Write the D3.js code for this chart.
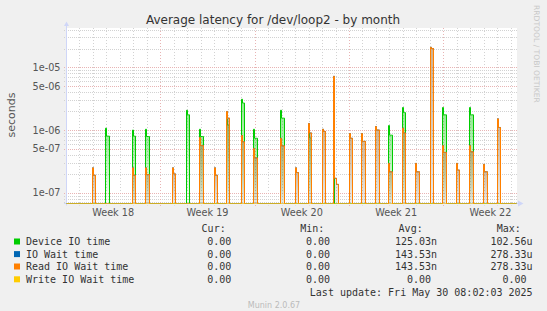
<!DOCTYPE html>
<html>
<head>
<meta charset="utf-8">
<script src="https://cdn.jsdelivr.net/npm/d3@7"></script>
<style>
  body { margin: 0; background: #f0f0f0; }
  svg { display: block; }
  text { font-family: "DejaVu Sans", sans-serif; }
  .mono { font-family: "DejaVu Sans Mono", monospace; white-space: pre; }
</style>
</head>
<body>
<div id="chart"></div>
<script>
// ---- data (2 hour steps, values in seconds) ----
const spikeTimes = [
  "2025-04-28T22:20Z", "2025-04-29T22:00Z", "2025-05-01T21:30Z", "2025-05-02T21:10Z",
  "2025-05-04T20:50Z", "2025-05-05T21:40Z", "2025-05-06T21:20Z", "2025-05-07T23:00Z",
  "2025-05-08T20:50Z", "2025-05-09T23:10Z", "2025-05-10T21:40Z", "2025-05-12T21:40Z",
  "2025-05-13T23:20Z", "2025-05-14T23:00Z", "2025-05-15T23:50Z", "2025-05-16T20:00Z",
  "2025-05-17T23:30Z", "2025-05-18T21:50Z", "2025-05-19T22:50Z", "2025-05-20T22:00Z",
  "2025-05-21T22:20Z", "2025-05-22T22:10Z", "2025-05-24T00:50Z", "2025-05-24T22:10Z",
  "2025-05-25T22:30Z", "2025-05-26T22:10Z", "2025-05-27T23:10Z", "2025-05-28T23:10Z"
];
const deviceIO = [
  [], [1.07e-6, 8.0e-7, 8.0e-7], [1.0e-6, 8.0e-7, 8.0e-7], [1.03e-6, 7.9e-7, 7.9e-7],
  [], [2.07e-6, 1.75e-6, 1.75e-6], [1.03e-6, 7.9e-7, 7.9e-7], [],
  [1.5e-6, 1.2e-6, 1.2e-6], [3.1e-6, 2.7e-6, 2.7e-6], [1.03e-6, 7.4e-7, 7.4e-7], [2.07e-6, 1.55e-6, 1.55e-6],
  [], [1.1e-6, 7.5e-7, 7.5e-7], [], [5.0e-6],
  [], [], [], [1.18e-6, 8.3e-7, 8.3e-7],
  [2.29e-6, 1.9e-6, 1.9e-6], [], [], [2.29e-6, 1.75e-6, 1.75e-6],
  [], [2.29e-6, 1.75e-6, 1.75e-6], [], []
];
const readWait = [
  [2.5e-7, 1.9e-7, 1.9e-7], [], [2.5e-7, 1.9e-7, 1.9e-7], [2.5e-7, 1.95e-7, 1.95e-7],
  [2.5e-7, 2.0e-7, 2.0e-7], [], [7.6e-7, 5.65e-7, 5.65e-7], [2.5e-7, 1.9e-7, 1.9e-7],
  [1.98e-6, 1.55e-6, 1.55e-6], [8.2e-7, 6.5e-7, 6.5e-7], [5.1e-7, 3.6e-7, 3.6e-7], [7.4e-7, 5.6e-7, 5.6e-7],
  [2.5e-7, 2.1e-7, 2.1e-7], [1.27e-6, 9.0e-7, 9.0e-7], [1.03e-6, 9.5e-7, 9.5e-7], [7.2e-6, 1.7e-7, 1.36e-7, 1.36e-7],
  [8.8e-7, 7.4e-7, 7.4e-7], [8.8e-7, 6.6e-7, 6.6e-7], [1.14e-6, 1.0e-6, 1.0e-6], [2.94e-7, 2.16e-7, 2.16e-7],
  [1.07e-6, 9.0e-7, 9.0e-7], [2.94e-7, 2.16e-7, 2.16e-7], [2.09e-5, 2.0e-5], [5.65e-7, 4.4e-7, 4.4e-7],
  [2.94e-7, 2.3e-7, 2.3e-7], [5.65e-7, 4.5e-7, 4.5e-7], [2.84e-7, 2.16e-7, 2.16e-7], [1.51e-6, 1.1e-6, 1.1e-6]
];
// IO wait and read IO wait have identical stats in the legend
const ioWait = readWait.map(v => v.slice());
const writeWait = spikeTimes.map(() => []);   // always 0

const yTicks = [1e-7, 5e-7, 1e-6, 5e-6, 1e-5];
const yTickLabels = ["1e-07", "5e-07", "1e-06", "5e-06", "1e-05"];
const weekLabels = ["Week 18", "Week 19", "Week 20", "Week 21", "Week 22"];

const legendNames = ["Device IO time", "IO Wait time", "Read IO Wait time", "Write IO Wait time"];
const legendCur = ["0.00 ", "0.00 ", "0.00 ", "0.00 "];
const legendMin = ["0.00 ", "0.00 ", "0.00 ", "0.00 "];
const legendAvg = ["125.03n", "143.53n", "143.53n", "0.00 "];
const legendMax = ["102.56u", "278.33u", "278.33u", "0.00 "];

// ---- styles ----
const colors = ["#00cc00", "#0066b3", "#ff8000", "#ffcc00"];
const width = 547, height = 311;
const plot = { left: 66, right: 516, top: 28, bottom: 203.5 };
const STEP = 2 * 3600 * 1000;

const start = new Date("2025-04-27T00:00Z");
const end = new Date(+start + 33.393 * 86400000);

const svg = d3.select("#chart").append("svg")
  .attr("width", width)
  .attr("height", height);

svg.append("rect").attr("width", width).attr("height", height).attr("fill", "#f0f0f0");

// canvas
svg.append("rect")
  .attr("x", plot.left).attr("y", plot.top)
  .attr("width", plot.right - plot.left + 1).attr("height", plot.bottom - plot.top)
  .attr("fill", "#ffffff");

const x = d3.scaleUtc().domain([start, end]).range([plot.left, plot.right]);
const y = d3.scaleLog().domain([6.74e-8, 4.25e-5]).range([plot.bottom, plot.top]);

const px = t => Math.round(x(t)) + 0.5;
const py = v => v > 0 ? y(v) : plot.bottom + 0.5;

// ---- grid ----
const minorColor = "#d2d2d2", majorColor = "#e8b4b4";
const grid = svg.append("g");
y.ticks().filter(v => !yTicks.some(m => Math.abs(m - v) / m < 1e-6))
  .filter(v => v >= y.domain()[0] && v <= y.domain()[1])
  .forEach(v => {
    const yy = Math.round(y(v)) + 0.5;
    grid.append("line").attr("x1", plot.left - 2).attr("x2", plot.right + 1)
      .attr("y1", yy).attr("y2", yy)
      .attr("stroke", minorColor).attr("stroke-dasharray", "1,1");
  });

d3.utcDay.range(d3.utcDay.offset(start, 1), end).forEach(d => {
  const xx = px(d);
  grid.append("line").attr("x1", xx).attr("x2", xx)
    .attr("y1", plot.top).attr("y2", plot.bottom + 2)
    .attr("stroke", minorColor).attr("stroke-dasharray", "1,2");
});

yTicks.forEach(v => {
  const yy = Math.round(y(v)) + 0.5;
  grid.append("line").attr("x1", plot.left - 2).attr("x2", plot.right + 1)
    .attr("y1", yy).attr("y2", yy)
    .attr("stroke", majorColor).attr("stroke-dasharray", "1,1");
});

const weeks = d3.utcSunday.range(d3.utcDay.offset(start, 1), end);
weeks.forEach(d => {
  const xx = px(d);
  grid.append("line").attr("x1", xx).attr("x2", xx)
    .attr("y1", plot.top).attr("y2", plot.bottom + 3)
    .attr("stroke", majorColor).attr("stroke-dasharray", "1,2");
});

// ---- axes ----
const axisColor = "#cfd6f8";
svg.append("line").attr("x1", plot.left + 0.5).attr("x2", plot.left + 0.5)
  .attr("y1", plot.bottom + 2).attr("y2", 24).attr("stroke", axisColor);
svg.append("path").attr("d", "M64,26L69,26L66.5,21.5Z").attr("fill", axisColor);
svg.append("line").attr("x1", plot.left - 2).attr("x2", plot.right + 2)
  .attr("y1", plot.bottom).attr("y2", plot.bottom).attr("stroke", axisColor);
svg.append("path").attr("d", "M518,200.5L518,206.5L523.5,203.5Z").attr("fill", axisColor);

// y tick labels
svg.selectAll(".ylab").data(yTicks).enter().append("text")
  .attr("class", "ylab")
  .attr("x", 60.5).attr("y", d => y(d) + 3.5)
  .attr("text-anchor", "end")
  .attr("font-size", "9.7px").attr("fill", "#555")
  .text((d, i) => yTickLabels[i]);

// week labels centred in each week
svg.selectAll(".xlab").data(weekLabels).enter().append("text")
  .attr("class", "xlab")
  .attr("x", (d, i) => x(d3.utcHour.offset(d3.utcSunday.offset(start, i), 84)))
  .attr("y", 216)
  .attr("text-anchor", "middle")
  .attr("font-size", "9.7px").attr("fill", "#555")
  .text(d => d);

// ---- series ----
const defs = svg.append("defs");
defs.append("clipPath").attr("id", "clip").append("rect")
  .attr("x", plot.left).attr("y", plot.top)
  .attr("width", plot.right - plot.left + 1).attr("height", plot.bottom - plot.top + 0.5);

const gradStops = [[0.45, 0.03], [0.3, 0.08], [0.4, 0.06], [0.5, 0.1]];
colors.forEach((c, i) => {
  const g = defs.append("linearGradient").attr("id", "grad" + i)
    .attr("x1", 0).attr("y1", 0).attr("x2", 0).attr("y2", 1);
  g.append("stop").attr("offset", "0%").attr("stop-color", c).attr("stop-opacity", gradStops[i][0]);
  g.append("stop").attr("offset", "100%").attr("stop-color", c).attr("stop-opacity", gradStops[i][1]);
});

function seriesPoints(values) {
  const pts = [{ t: start, v: 0 }];
  spikeTimes.forEach((s, i) => {
    const vals = values[i];
    if (!vals.length) return;
    const t0 = d3.isoParse(s);
    vals.forEach((v, k) => pts.push({ t: new Date(+t0 + k * STEP), v: v }));
    pts.push({ t: new Date(+t0 + vals.length * STEP), v: 0 });
  });
  pts.push({ t: end, v: 0 });
  return pts;
}

const line = d3.line().curve(d3.curveStepAfter).x(d => px(d.t)).y(d => py(d.v));
const area = d3.area().curve(d3.curveStepAfter)
  .x(d => px(d.t)).y0(plot.bottom + 0.5).y1(d => py(d.v));

const dataG = svg.append("g").attr("clip-path", "url(#clip)");
[deviceIO, ioWait, readWait, writeWait].forEach((values, i) => {
  spikeTimes.forEach((s, j) => {
    const vals = values[j];
    if (!vals.length) return;
    const t0 = d3.isoParse(s);
    const pts = vals.map((v, k) => ({ t: new Date(+t0 + k * STEP), v: v }));
    pts.push({ t: new Date(+t0 + vals.length * STEP), v: vals[vals.length - 1] });
    dataG.append("path").attr("d", area(pts)).attr("fill", "url(#grad" + i + ")");
  });
  dataG.append("path")
    .datum(seriesPoints(values))
    .attr("d", line)
    .attr("fill", "none")
    .attr("stroke", colors[i])
    .attr("stroke-width", 1);
});

// ---- titles ----
svg.append("text")
  .attr("x", 273).attr("y", 24)
  .attr("text-anchor", "middle")
  .attr("font-size", "12px").attr("fill", "#333")
  .text("Average latency for /dev/loop2 - by month");

svg.append("text")
  .attr("transform", "translate(15,115) rotate(-90)")
  .attr("text-anchor", "middle")
  .attr("font-size", "11px").attr("fill", "#555")
  .text("seconds");

svg.append("text")
  .attr("transform", "translate(534,5) rotate(90)")
  .attr("font-size", "7.6px").attr("fill", "#c8c8c8")
  .text("RRDTOOL / TOBI OETIKER");

// ---- legend ----
const leg = svg.append("g").attr("class", "mono").attr("font-size", "10px").attr("fill", "#333");
[["Cur:", 225.7], ["Min:", 324.4], ["Avg:", 422.7], ["Max:", 520.8]].forEach(h => {
  leg.append("text").attr("class", "mono").attr("x", h[1]).attr("y", 232)
    .attr("text-anchor", "end").text(h[0]);
});

const rowY = [245, 257.6, 270, 282.8];
legendNames.forEach((name, i) => {
  svg.append("rect").attr("x", 14).attr("y", rowY[i] - 6.5).attr("width", 6).attr("height", 6)
    .attr("fill", colors[i]);
  leg.append("text").attr("class", "mono").attr("x", 26).attr("y", rowY[i]).text(name);
  [[legendCur, 237.3], [legendMin, 336], [legendAvg, 437.1], [legendMax, 532.6]].forEach(col => {
    leg.append("text").attr("class", "mono").attr("x", col[1]).attr("y", rowY[i])
      .attr("text-anchor", "end").text(col[0][i]);
  });
});

leg.append("text").attr("class", "mono").attr("x", 532.6).attr("y", 295.6)
  .attr("text-anchor", "end").text("Last update: Fri May 30 08:02:03 2025");

svg.append("text")
  .attr("x", 274).attr("y", 307.5)
  .attr("text-anchor", "middle")
  .attr("font-size", "8px").attr("fill", "#bbbbbb")
  .text("Munin 2.0.67");
</script>
</body>
</html>
